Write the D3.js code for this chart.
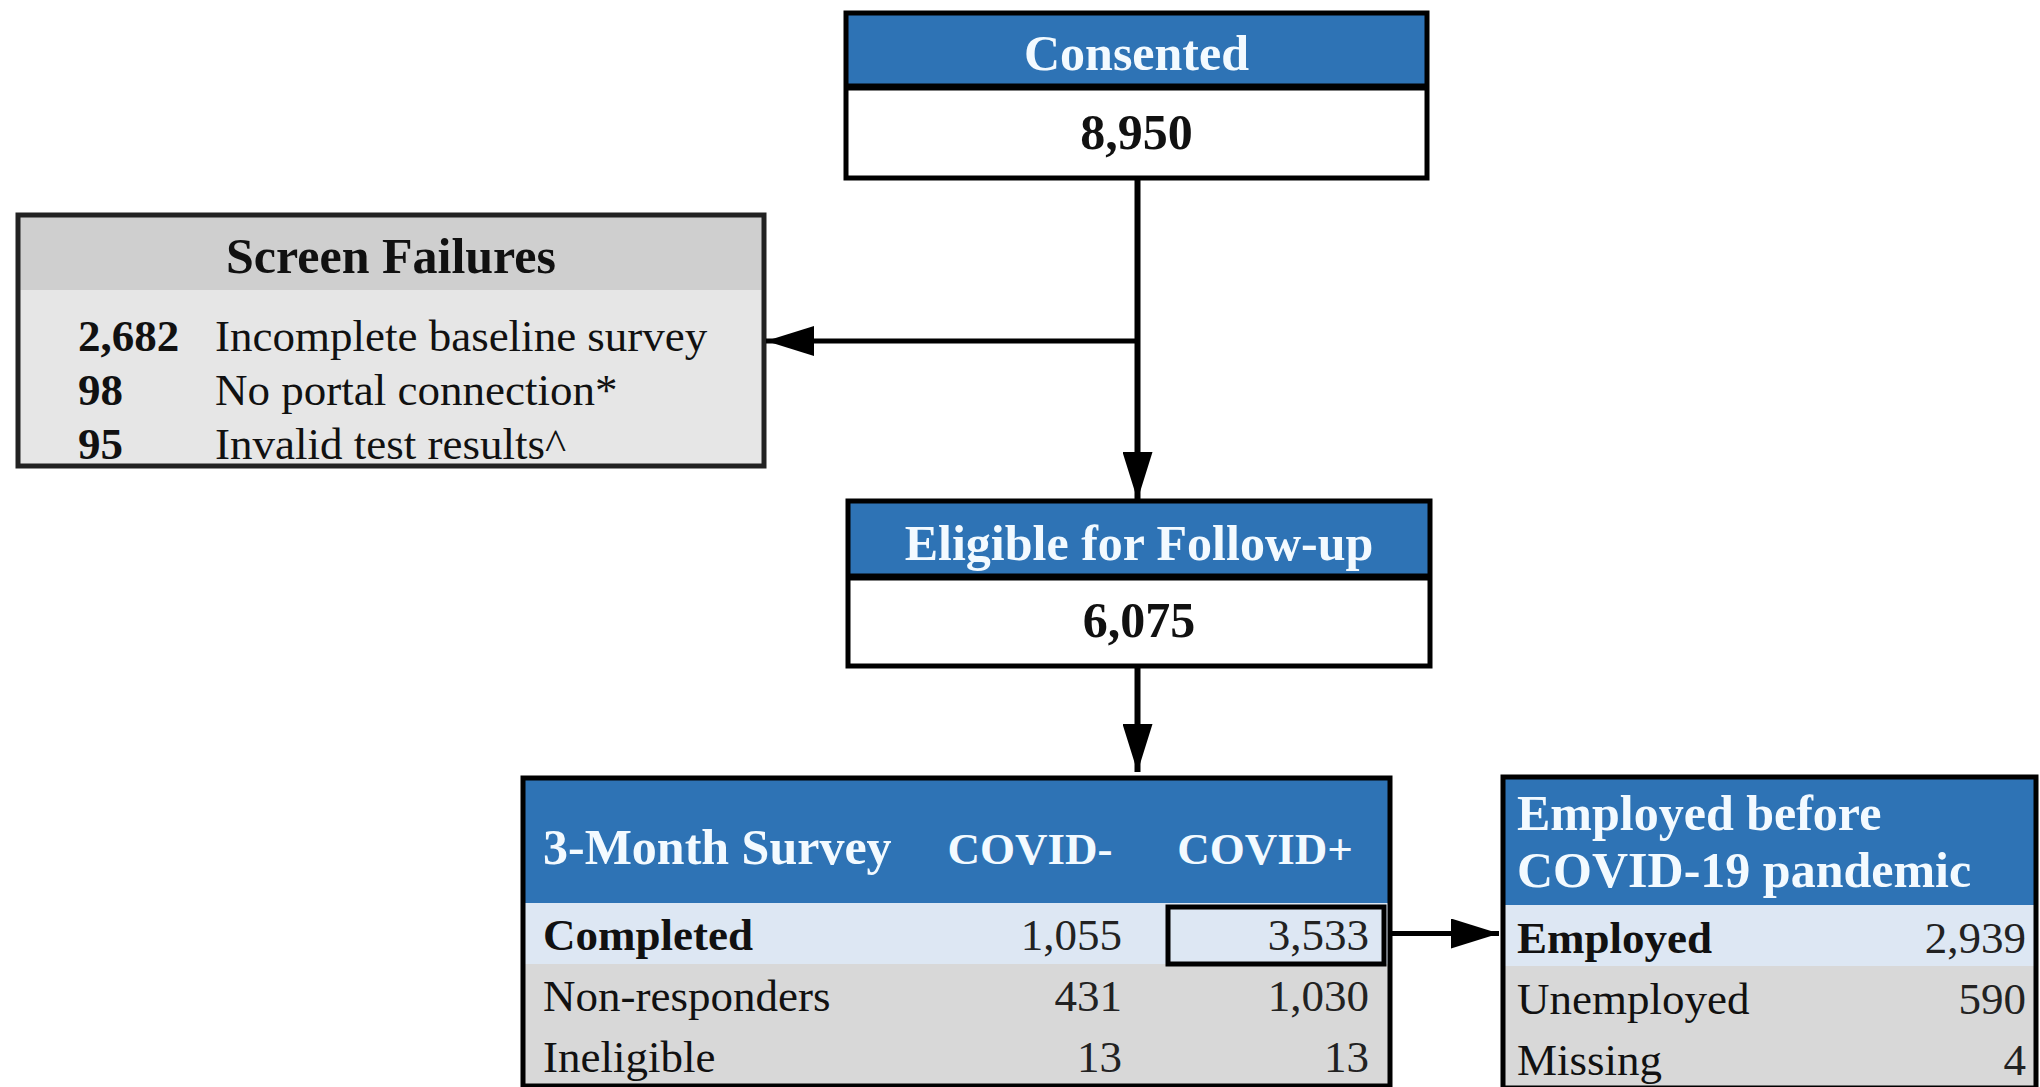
<!DOCTYPE html>
<html>
<head>
<meta charset="utf-8">
<script src="https://cdn.jsdelivr.net/npm/d3@7"></script>
<style>
	html, body { margin: 0; padding: 0; background: #fff; }
	svg { display: block; }
	text { font-family: "Liberation Serif", "Times New Roman", serif; }
</style>
</head>
<body>
<div id="graphic-wrapper"></div>
<script>
/* global d3 */
const WIDTH = 2040
const HEIGHT = 1087

// data
const consentedTitle = "Consented"
const consentedCount = 8950
const eligibleTitle = "Eligible for Follow-up"
const eligibleCount = 6075
const screenTitle = "Screen Failures"
const screenReasons = ["Incomplete baseline survey", "No portal connection*", "Invalid test results^"]
const screenCounts = [2682, 98, 95]
const surveyTitle = "3-Month Survey"
const surveyColumns = ["COVID-", "COVID+"]
const surveyRows = ["Completed", "Non-responders", "Ineligible"]
const covidNeg = [1055, 431, 13]
const covidPos = [3533, 1030, 13]
const employedTitle = ["Employed before", "COVID-19 pandemic"]
const employedRows = ["Employed", "Unemployed", "Missing"]
const employedCounts = [2939, 590, 4]

const fmt = d3.format(",")
const BLUE = "#2e73b5"
const LIGHT_BLUE = "#dde7f3"
const GRAY = "#d8d8d8"
const SF_HEAD = "#cfcfcf"
const SF_BODY = "#e6e6e6"
const HEAD_TEXT = "#f3faff"
const STROKE = 5

const svg = d3.select("#graphic-wrapper")
	.append("svg")
		.attr("width", WIDTH)
		.attr("height", HEIGHT)

svg.append("defs").append("marker")
	.attr("id", "arrow")
	.attr("viewBox", "0 0 48 30")
	.attr("refX", 48)
	.attr("refY", 15)
	.attr("markerWidth", 48)
	.attr("markerHeight", 30)
	.attr("markerUnits", "userSpaceOnUse")
	.attr("orient", "auto")
	.append("path")
		.attr("d", "M0,0 L48,15 L0,30 Z")
		.attr("fill", "#000")

// simple count box: blue header + white value
function drawCountBox(box, title, count) {
	const g = svg.append("g")
	g.append("rect")
		.attr("x", box.x).attr("y", box.y)
		.attr("width", box.w).attr("height", box.head)
		.attr("fill", BLUE)
	g.append("rect")
		.attr("x", box.x).attr("y", box.y + box.head)
		.attr("width", box.w).attr("height", box.h - box.head)
		.attr("fill", "#fff")
	g.append("line")
		.attr("x1", box.x).attr("x2", box.x + box.w)
		.attr("y1", box.y + box.head).attr("y2", box.y + box.head)
		.attr("stroke", "#000").attr("stroke-width", STROKE + 2)
	g.append("rect")
		.attr("x", box.x).attr("y", box.y)
		.attr("width", box.w).attr("height", box.h)
		.attr("fill", "none").attr("stroke", "#000").attr("stroke-width", STROKE)
	g.append("text")
		.attr("x", box.x + box.w / 2).attr("y", box.y + box.head - 17)
		.attr("text-anchor", "middle")
		.attr("font-size", 50).attr("font-weight", "bold")
		.attr("fill", HEAD_TEXT)
		.text(title)
	g.append("text")
		.attr("x", box.x + box.w / 2).attr("y", box.y + box.h - 29)
		.attr("text-anchor", "middle")
		.attr("font-size", 50).attr("font-weight", "bold")
		.attr("fill", "#111")
		.text(fmt(count))
}

const consentedBox = {x: 846, y: 13, w: 581, h: 165, head: 74}
const eligibleBox = {x: 848, y: 501, w: 582, h: 165, head: 76}
drawCountBox(consentedBox, consentedTitle, consentedCount)
drawCountBox(eligibleBox, eligibleTitle, eligibleCount)

// screen failures
const sfBox = {x: 18, y: 215, w: 746, h: 251, head: 75}
const sf = svg.append("g")
sf.append("rect")
	.attr("x", sfBox.x).attr("y", sfBox.y)
	.attr("width", sfBox.w).attr("height", sfBox.h)
	.attr("fill", SF_BODY)
sf.append("rect")
	.attr("x", sfBox.x).attr("y", sfBox.y)
	.attr("width", sfBox.w).attr("height", sfBox.head)
	.attr("fill", SF_HEAD)
sf.append("rect")
	.attr("x", sfBox.x).attr("y", sfBox.y)
	.attr("width", sfBox.w).attr("height", sfBox.h)
	.attr("fill", "none").attr("stroke", "#222").attr("stroke-width", STROKE)
sf.append("text")
	.attr("x", sfBox.x + sfBox.w / 2).attr("y", sfBox.y + sfBox.head - 17)
	.attr("text-anchor", "middle")
	.attr("font-size", 50).attr("font-weight", "bold")
	.attr("fill", "#111")
	.text(screenTitle)

const sfY = d3.scaleBand()
	.domain(d3.range(screenReasons.length))
	.range([sfBox.y + sfBox.head + 18, sfBox.y + sfBox.h + 4])
sf.selectAll(".sf-count")
	.data(screenCounts)
	.join("text")
		.attr("class", "sf-count")
		.attr("x", sfBox.x + 60)
		.attr("y", (d, i) => sfY(i) + 43)
		.attr("font-size", 45).attr("font-weight", "bold")
		.attr("fill", "#111")
		.text(d => fmt(d))
sf.selectAll(".sf-reason")
	.data(screenReasons)
	.join("text")
		.attr("class", "sf-reason")
		.attr("x", sfBox.x + 197)
		.attr("y", (d, i) => sfY(i) + 43)
		.attr("font-size", 45)
		.attr("fill", "#111")
		.text(d => d)

// 3-month survey table
const svBox = {x: 523, y: 778, w: 867, head: 125, row: 61}
const sv = svg.append("g")
const svY = d3.scaleBand()
	.domain(d3.range(surveyRows.length))
	.range([svBox.y + svBox.head, svBox.y + svBox.head + svBox.row * surveyRows.length])
sv.append("rect")
	.attr("x", svBox.x).attr("y", svBox.y)
	.attr("width", svBox.w).attr("height", svBox.head)
	.attr("fill", BLUE)
sv.selectAll(".sv-row")
	.data(surveyRows)
	.join("rect")
		.attr("class", "sv-row")
		.attr("x", svBox.x).attr("y", (d, i) => svY(i))
		.attr("width", svBox.w).attr("height", svY.bandwidth())
		.attr("fill", (d, i) => i === 0 ? LIGHT_BLUE : GRAY)
sv.append("rect")
	.attr("x", svBox.x).attr("y", svBox.y)
	.attr("width", svBox.w).attr("height", svBox.head + svBox.row * surveyRows.length)
	.attr("fill", "none").attr("stroke", "#000").attr("stroke-width", STROKE)

const colCenter = [1030, 1265]
const colRight = [1122, 1369]
sv.append("text")
	.attr("x", svBox.x + 20).attr("y", svBox.y + 86)
	.attr("font-size", 50).attr("font-weight", "bold")
	.attr("fill", HEAD_TEXT)
	.text(surveyTitle)
sv.selectAll(".sv-col")
	.data(surveyColumns)
	.join("text")
		.attr("class", "sv-col")
		.attr("x", (d, i) => colCenter[i]).attr("y", svBox.y + 86)
		.attr("text-anchor", "middle")
		.attr("font-size", 45).attr("font-weight", "bold")
		.attr("fill", HEAD_TEXT)
		.text(d => d)
sv.selectAll(".sv-label")
	.data(surveyRows)
	.join("text")
		.attr("class", "sv-label")
		.attr("x", svBox.x + 20).attr("y", (d, i) => svY(i) + 47)
		.attr("font-size", 45)
		.attr("font-weight", (d, i) => i === 0 ? "bold" : "normal")
		.attr("fill", "#111")
		.text(d => d)
;[covidNeg, covidPos].forEach((col, c) => {
	sv.selectAll(".sv-val-" + c)
		.data(col)
		.join("text")
			.attr("class", "sv-val-" + c)
			.attr("x", colRight[c]).attr("y", (d, i) => svY(i) + 47)
			.attr("text-anchor", "end")
			.attr("font-size", 45)
			.attr("fill", "#222")
			.text(d => fmt(d))
})
// highlighted COVID+ completed cell
sv.append("rect")
	.attr("x", 1168).attr("y", svY(0) + 4)
	.attr("width", svBox.x + svBox.w - 6 - 1168).attr("height", svY.bandwidth() - 4)
	.attr("fill", "none").attr("stroke", "#000").attr("stroke-width", STROKE)

// employed table
const emBox = {x: 1503, y: 777, w: 533, head: 128, row: 61}
const em = svg.append("g")
const emY = d3.scaleBand()
	.domain(d3.range(employedRows.length))
	.range([emBox.y + emBox.head, emBox.y + emBox.head + emBox.row * employedRows.length])
em.append("rect")
	.attr("x", emBox.x).attr("y", emBox.y)
	.attr("width", emBox.w).attr("height", emBox.head)
	.attr("fill", BLUE)
em.selectAll(".em-row")
	.data(employedRows)
	.join("rect")
		.attr("class", "em-row")
		.attr("x", emBox.x).attr("y", (d, i) => emY(i))
		.attr("width", emBox.w).attr("height", emY.bandwidth())
		.attr("fill", (d, i) => i === 0 ? LIGHT_BLUE : GRAY)
em.append("rect")
	.attr("x", emBox.x).attr("y", emBox.y)
	.attr("width", emBox.w).attr("height", emBox.head + emBox.row * employedRows.length)
	.attr("fill", "none").attr("stroke", "#000").attr("stroke-width", STROKE)
em.selectAll(".em-title")
	.data(employedTitle)
	.join("text")
		.attr("class", "em-title")
		.attr("x", emBox.x + 14).attr("y", (d, i) => emBox.y + 53 + i * 57)
		.attr("font-size", 50).attr("font-weight", "bold")
		.attr("fill", HEAD_TEXT)
		.text(d => d)
em.selectAll(".em-label")
	.data(employedRows)
	.join("text")
		.attr("class", "em-label")
		.attr("x", emBox.x + 14).attr("y", (d, i) => emY(i) + 48)
		.attr("font-size", 45)
		.attr("font-weight", (d, i) => i === 0 ? "bold" : "normal")
		.attr("fill", "#111")
		.text(d => d)
em.selectAll(".em-val")
	.data(employedCounts)
	.join("text")
		.attr("class", "em-val")
		.attr("x", emBox.x + emBox.w - 10).attr("y", (d, i) => emY(i) + 48)
		.attr("text-anchor", "end")
		.attr("font-size", 45)
		.attr("fill", "#222")
		.text(d => fmt(d))

// connectors
const stemX = consentedBox.x + consentedBox.w / 2 + 1
const branchY = 341
const links = [
	{x1: stemX, y1: consentedBox.y + consentedBox.h, x2: stemX, y2: eligibleBox.y - 1, w: 6},
	{x1: stemX, y1: branchY, x2: sfBox.x + sfBox.w + 2, y2: branchY, w: 5},
	{x1: stemX, y1: eligibleBox.y + eligibleBox.h, x2: stemX, y2: svBox.y - 6, w: 6},
	{x1: svBox.x + svBox.w, y1: svY(0) + svY.bandwidth() / 2, x2: emBox.x - 4, y2: svY(0) + svY.bandwidth() / 2, w: 5}
]
svg.selectAll(".link")
	.data(links)
	.join("line")
		.attr("class", "link")
		.attr("x1", d => d.x1).attr("y1", d => d.y1)
		.attr("x2", d => d.x2).attr("y2", d => d.y2)
		.attr("stroke", "#000").attr("stroke-width", d => d.w)
		.attr("marker-end", "url(#arrow)")
</script>
</body>
</html>
